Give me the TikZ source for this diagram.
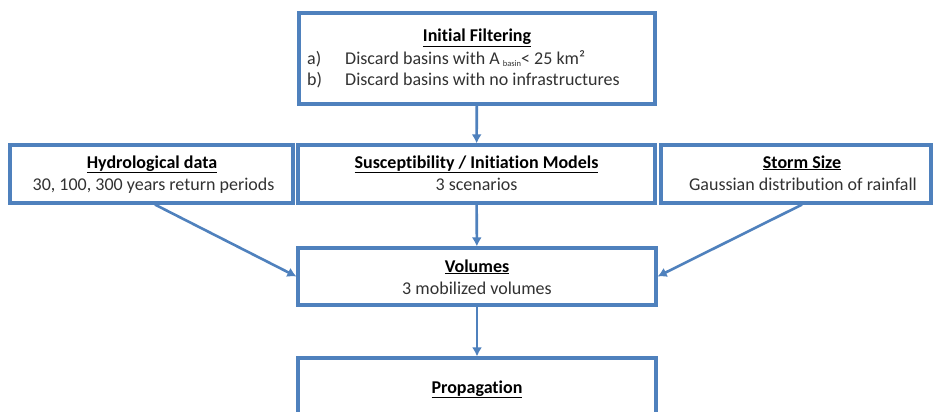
\documentclass[tikz,border=0pt]{standalone}
\usepackage{fontspec}
\setmainfont[Ligatures=NoCommon]{Carlito}
\usetikzlibrary{arrows.meta,calc}
\definecolor{boxblue}{RGB}{79,129,189}
\definecolor{txtgray}{RGB}{50,50,50}
\begin{document}
\begin{tikzpicture}[x=1pt,y=-1pt,
  box/.style={draw=boxblue,line width=3.2pt,inner sep=0pt,fill=white},
  lbl/.style={anchor=base,inner sep=0pt,text=txtgray,font=\fontsize{18}{21}\selectfont},
  ttl/.style={anchor=base,inner sep=0pt,text=black,font=\fontsize{18}{21}\selectfont\bfseries},
  arr/.style={draw=boxblue,line width=2.6pt,-{Latex[length=9pt,width=10pt]}}]
\clip (0,0) rectangle (934,412);
\fill[white] (0,0) rectangle (934,412);
% boxes
\node[box,minimum width=356pt,minimum height=91pt] (init) at (477,58.5) {};
\node[box,minimum width=283pt,minimum height=58pt] (hydro) at (151.5,174) {};
\node[box,minimum width=357pt,minimum height=58pt] (mid) at (476.5,174) {};
\node[box,minimum width=270pt,minimum height=58pt] (storm) at (796,174) {};
\node[box,minimum width=358pt,minimum height=57pt] (vol) at (477,276.5) {};
\node[box,minimum width=358pt,minimum height=82pt] (prop) at (477,399) {};
% texts
\node[ttl] (t1) at (477,42) {\underline{Initial Filtering}};
\node[lbl,anchor=base west] (ta) at (307,64) {a)};
\node[lbl,anchor=base west] (tax) at (345,64) {Discard basins with A\,\raisebox{-2.5pt}{\fontsize{8.5}{9}\selectfont basin}< 25 km²};
\node[lbl,anchor=base west] (tb) at (307,85) {b)};
\node[lbl,anchor=base west] (tbx) at (345,85) {Discard basins with no infrastructures};
\node[ttl] (h1) at (152,168) {\underline{Hydrological data}};
\node[lbl] (h2) at (153.5,190) {30, 100, 300 years return periods};
\node[ttl] (m1) at (476.5,168) {\underline{Susceptibility / Initiation Models}};
\node[lbl] (m2) at (476.5,190) {3 scenarios};
\node[ttl] (s1) at (802,168) {\underline{Storm Size}};
\node[lbl] (s2) at (803,190) {Gaussian distribution of rainfall};
\node[ttl] (v1) at (477,272) {\underline{Volumes}};
\node[lbl] (v2) at (477,294) {3 mobilized volumes};
\node[ttl] (p1) at (477,393) {\underline{Propagation}};
% arrows
\draw[arr] (init) -- (mid);
\draw[arr] (mid) -- (vol);
\draw[arr] (vol) -- (prop);
\draw[arr] ($(hydro.south)+(3.5,0)$) -- (vol.west);
\draw[arr] ($(storm.south)+(6,0)$) -- (vol.east);
\end{tikzpicture}
\end{document}
